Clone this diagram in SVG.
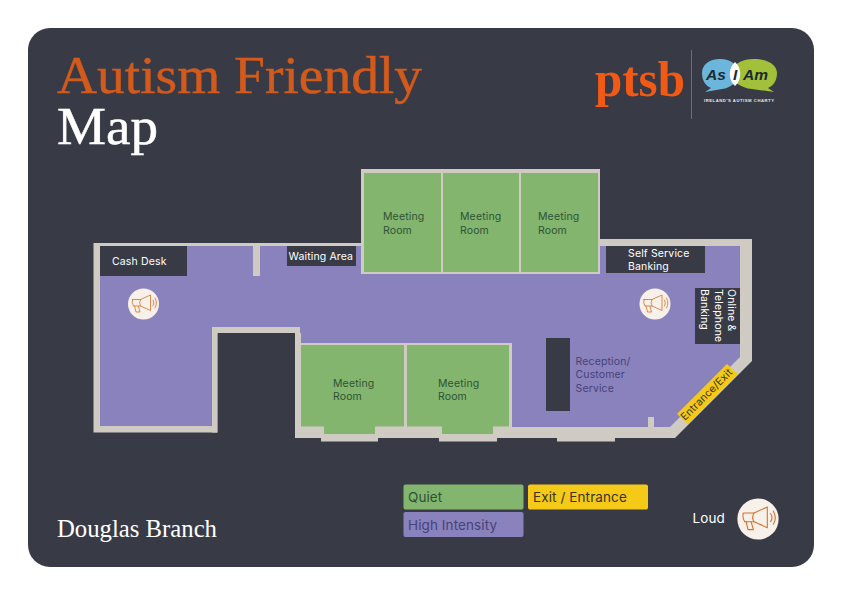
<svg xmlns="http://www.w3.org/2000/svg" width="842" height="596" viewBox="0 0 842 596">
<style>
.s{font-family:Inter,"Liberation Sans",sans-serif;font-size:10.5px;letter-spacing:.14px}
.l{fill:#fff}.g{fill:#2c5236}.p{fill:#45437a}
.room{fill:#84b56e}.dark{fill:#383b46}
.t{font-family:"Liberation Serif",serif;stroke-width:.5px}
.leg{font-family:Inter,"Liberation Sans",sans-serif;font-size:13.5px;letter-spacing:.1px}
</style>
<defs>
<g id="horn">
<circle r="15.5" fill="#f8f1e9"/>
<g fill="none" stroke="#d2702c" stroke-width=".8" stroke-linejoin="round" stroke-linecap="round">
<path d="M-11-4.5 L-3-4.5 L7-9 L7 6.5 L-3 2 L-10 2 Q-12-1-11-4.5Z"/>
<path d="M-3-4.5 Q-5-1-3 2"/>
<path d="M-9 2 L-7.5 8 L-3.5 8 L-5 2.5"/>
<path d="M9.5-4 Q11.5-1 9.5 2"/>
<path d="M11.5-6 Q14.5-1 11.5 4"/>
</g>
</g>
</defs>
<rect width="842" height="596" fill="#fff"/>
<rect x="28" y="28" width="786" height="539" rx="22" class="dark"/>

<g id="title">
<text class="t" x="57" y="93" font-size="53" fill="#d25a1c" stroke="#d25a1c" textLength="365" lengthAdjust="spacingAndGlyphs">Autism Friendly</text>
<text class="t" x="57" y="144" font-size="53" fill="#fff" stroke="#fff" textLength="101" lengthAdjust="spacingAndGlyphs">Map</text>
<text class="t" x="57" y="537" font-size="25" fill="#fff" textLength="160" lengthAdjust="spacingAndGlyphs">Douglas Branch</text>
</g>

<g id="logos">
<text x="595" y="96" font-family="Liberation Serif,serif" font-weight="700" font-size="50" fill="#f05a14" textLength="90" lengthAdjust="spacingAndGlyphs">ptsb</text>
<rect x="691" y="50" width="1" height="69" fill="#6c6f78"/>
<path d="M720 59 C709 59 702 65 702 73 C702 81 706 86 711 88 L705 92 L722 89 C731 88 738 82 738 73 C738 65 731 59 720 59Z" fill="#6cb6dc"/>
<path d="M754 59 C768 59 777 65 777 73 C777 81 773 86 768 88 L774 92 L752 89 C741 88 732 82 732 73 C732 65 741 59 754 59Z" fill="#a3c03a"/>
<path d="M735 62 C742 68 742 80 735 86 C728 80 728 68 735 62Z" fill="#fff"/>
<g font-family="Liberation Sans,sans-serif" font-weight="700" font-style="italic" font-size="15.500" fill="#1a2a30">
<text x="706" y="80">As</text><text x="733" y="80">I</text><text x="743" y="80">Am</text>
</g>
<text x="704" y="102" font-family="Liberation Sans,sans-serif" font-size="4.200" font-weight="700" fill="#e8e8e8" textLength="70">IRELAND'S AUTISM CHARTY</text>
</g>

<g id="building">
<path fill="#cfcbc3" d="M93.500 243H361V169H600V239H752V361L675 438H615V441.500H557V438H497V441.500H439V438H378V441.500H321V438H295V333H217.500V432.500H93.500Z"/>
<path fill="#8a82bc" d="M100 246H361V274H600V246H740V357L670 427H512V343H300V327H212V426H100Z"/>
<path fill="#cfcbc3" d="M253 246H260V276H253ZM648 417H654V427H648Z"/>
<path class="dark" d="M217.500 333H295V432.500H217.500Z"/>
<rect x="212" y="327" width="88" height="6" fill="#cfcbc3"/>
<rect x="212" y="333" width="5.500" height="99.500" fill="#cfcbc3"/>
<rect x="295" y="333" width="6" height="105" fill="#cfcbc3"/>
<rect x="300" y="343" width="212" height="3" fill="#cfcbc3"/>
</g>

<g id="room-top-1"><rect x="364" y="173" width="77" height="99" class="room"/><text class="s g" x="383" y="220">Meeting</text><text class="s g" x="383" y="234">Room</text></g>
<g id="room-top-2"><rect x="443" y="173" width="76" height="99" class="room"/><text class="s g" x="460" y="220">Meeting</text><text class="s g" x="460" y="234">Room</text></g>
<g id="room-top-3"><rect x="521" y="173" width="77" height="99" class="room"/><text class="s g" x="538" y="220">Meeting</text><text class="s g" x="538" y="234">Room</text></g>
<g id="room-low-1"><path class="room" d="M301 345H404V426.500H375V434H324V426.500H301Z"/><text class="s g" x="333" y="387">Meeting</text><text class="s g" x="333" y="400">Room</text></g>
<g id="room-low-2"><path class="room" d="M407 345H509V426.500H493V434H442V426.500H407Z"/><text class="s g" x="438" y="387">Meeting</text><text class="s g" x="438" y="400">Room</text></g>

<g id="cash-desk"><rect x="100" y="246" width="87" height="30" class="dark"/><text class="s l" x="112" y="265">Cash Desk</text></g>
<g id="waiting-area"><rect x="287" y="246" width="69" height="20" class="dark"/><text class="s l" x="288.500" y="260">Waiting Area</text></g>
<g id="self-service"><rect x="606" y="246" width="99" height="27" class="dark"/><text class="s l" x="628" y="257">Self Service</text><text class="s l" x="628" y="270">Banking</text></g>
<g id="online-banking"><rect x="695" y="288" width="45" height="56" class="dark"/>
<text class="s l" transform="translate(728 289) rotate(90)">Online &amp;</text>
<text class="s l" transform="translate(714.500 289) rotate(90)">Telephone</text>
<text class="s l" transform="translate(701 289) rotate(90)">Banking</text></g>
<g id="reception"><rect x="546" y="338" width="24" height="73" class="dark"/><text class="s p" x="575.500" y="365">Reception/</text><text class="s p" x="575.500" y="378">Customer</text><text class="s p" x="575.500" y="392">Service</text></g>
<g id="entrance"><path fill="#f5c917" d="M677 414L727 364L738 374L688 424Z"/><text class="s" fill="#3a3420" transform="translate(685 421) rotate(-45)">Entrance/Exit</text></g>

<use id="loud-1" href="#horn" x="143.500" y="304"/>
<use id="loud-2" href="#horn" x="655" y="304"/>

<g id="legend">
<rect x="403.500" y="484.500" width="120" height="25" rx="2" fill="#84b56e"/><text class="leg g" x="408" y="502">Quiet</text>
<rect x="528" y="484.500" width="120" height="25" rx="2" fill="#f5c917"/><text class="leg" fill="#3a3420" x="533" y="502">Exit / Entrance</text>
<rect x="403.500" y="512" width="120" height="25" rx="2" fill="#8a82bc"/><text class="leg p" x="408" y="530">High Intensity</text>
<text class="leg l" x="692.500" y="523">Loud</text>
<use href="#horn" transform="translate(758 519) scale(1.33)"/>
</g>
</svg>
